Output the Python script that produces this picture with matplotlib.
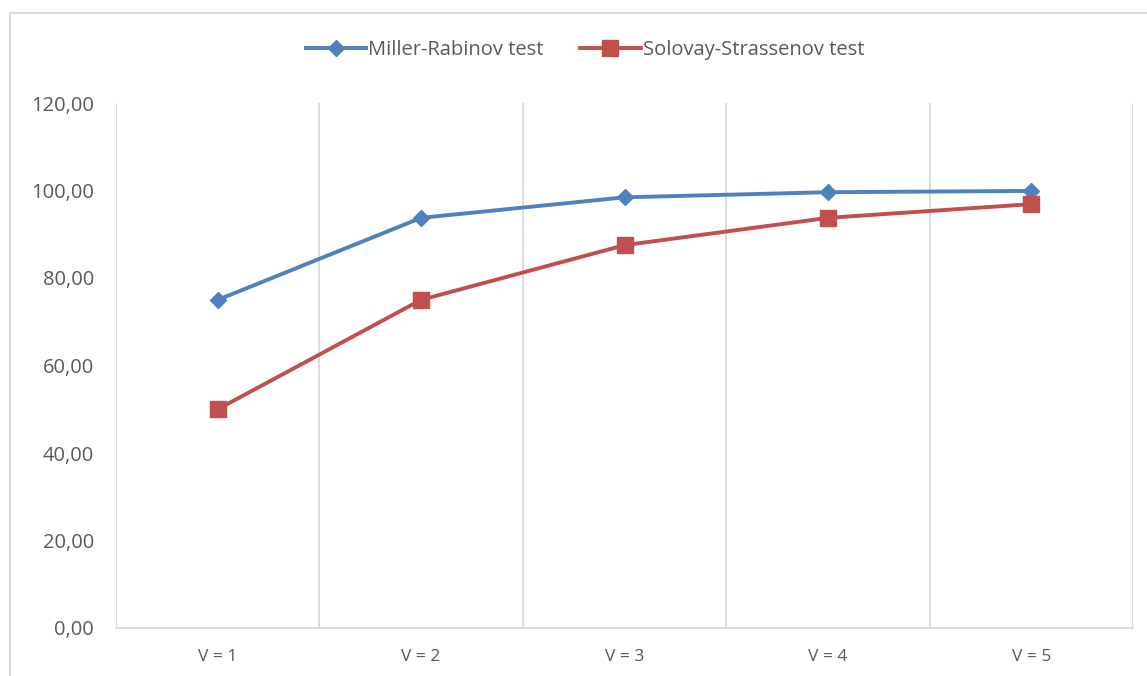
import numpy as np
import matplotlib
matplotlib.use("Agg")
from matplotlib import pyplot as plt
from matplotlib.lines import Line2D

categories = ["V = 1", "V = 2", "V = 3", "V = 4", "V = 5"]
miller_rabin = [75.00, 93.75, 98.44, 99.61, 99.90]
solovay_strassen = [50.00, 75.00, 87.50, 93.75, 96.88]
yticks = [0, 20, 40, 60, 80, 100, 120]

BLUE = "#4F81BD"
RED = "#C0504D"
TXT = "#595959"
GRID = "#D9D9D9"

plt.rcParams['font.family'] = ['Open Sans', 'DejaVu Sans']

fig = plt.figure(figsize=(11.47, 6.76), dpi=100)
ax = fig.add_axes([116/1147, 1-628/676, (1133-116)/1147, (628-103)/676])

x = np.arange(1, len(categories)+1)
ax.plot(x, miller_rabin, color=BLUE, lw=2.8, marker="D", ms=8.5,
        label="Miller-Rabinov test", zorder=3)
ax.plot(x, solovay_strassen, color=RED, lw=2.8, marker="s", ms=11.5,
        label="Solovay-Strassenov test", zorder=3)

ax.set_xlim(0.5, len(categories)+0.5)
ax.set_ylim(0, 120)
ax.set_yticks(yticks)
ax.set_yticklabels([f"{v:.2f}".replace(".", ",") for v in yticks])
ax.set_xticks(x)
ax.set_xticklabels(categories)
ax.set_xticks(np.arange(0.5, len(categories)+1), minor=True)
ax.grid(which="minor", axis="x", color=GRID, lw=1.3)
ax.tick_params(which="both", length=0)
ax.tick_params(axis="y", labelsize=14.5, colors=TXT, pad=16)
ax.tick_params(axis="x", labelsize=12.5, colors=TXT, pad=15)
for s in ["top", "right", "left"]:
    ax.spines[s].set_visible(False)
ax.spines["bottom"].set_color(GRID)
ax.spines["bottom"].set_linewidth(1.3)

fig.legend(loc="center", bbox_to_anchor=(0.51, 1-50/676), ncol=2, frameon=False,
           fontsize=14.5, labelcolor=TXT, handlelength=3.0, handletextpad=0.1,
           columnspacing=1.8)

# chart frame
fig.add_artist(Line2D([9.5/1147, 9.5/1147], [0, 1-12.5/676], color=GRID, lw=1.5,
                      transform=fig.transFigure))
fig.add_artist(Line2D([9.5/1147, 1], [1-12.5/676, 1-12.5/676], color=GRID, lw=1.5,
                      transform=fig.transFigure))

fig.savefig("out.png", dpi=100)
